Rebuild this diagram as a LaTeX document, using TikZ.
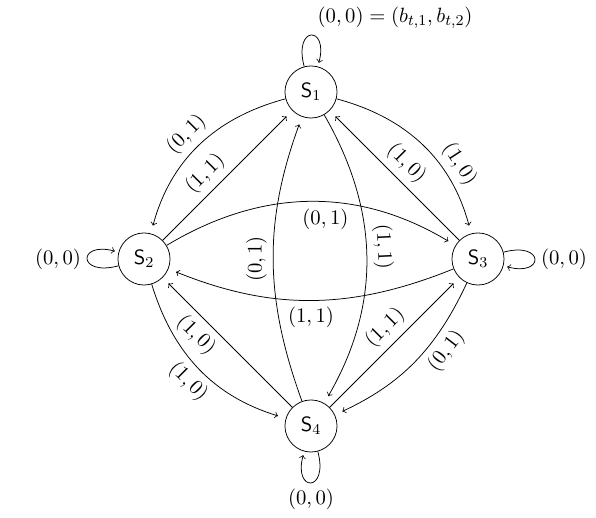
\documentclass[tikz,border=0pt]{standalone}
\begin{document}
\begin{tikzpicture}[x=0.53pt,y=0.53pt,
  every node/.style={font=\fontsize{10.95pt}{13pt}\selectfont},
  state/.style={circle,draw,minimum size=27.6pt,inner sep=0pt},
  arc/.style={->,shorten >=4.3pt},
  loopedge/.style={->,shorten >=2pt}]
\useasboundingbox (0,0) rectangle (596,518);
\node[state] (s1) at (311,426) {$\mathsf{S}_1$};
\node[state] (s2) at (144,259) {$\mathsf{S}_2$};
\node[state] (s3) at (478,259) {$\mathsf{S}_3$};
\node[state] (s4) at (311,92) {$\mathsf{S}_4$};
% loops
\draw[loopedge] (s1) to[loop above] node[above right] {$(0,0)=(b_{t,1},b_{t,2})$} (s1);
\draw[loopedge] (s2) to[loop left] node[left] {$(0,0)$} (s2);
\draw[loopedge] (s3) to[loop right] node[right] {$(0,0)$} (s3);
\draw[loopedge] (s4) to[loop below] node[below] {$(0,0)$} (s4);
% outer arcs
\draw[arc] (s1) to[bend right=30] node[pos=0.5,sloped,above] {$(0,1)$} (s2);
\draw[arc] (s1) to[bend left=30] node[pos=0.68,sloped,above] {$(1,0)$} (s3);
\draw[arc] (s2) to[bend right=28] node[sloped,below] {$(1,0)$} (s4);
\draw[arc] (s3) to[bend left=20] node[pos=0.34,sloped,below] {$(0,1)$} (s4);
% straight
\draw[arc] (s2) -- node[pos=0.42,sloped,above] {$(1,1)$} (s1);
\draw[arc] (s3) -- node[sloped,above] {$(1,0)$} (s1);
\draw[arc] (s4) -- node[pos=0.65,sloped,below] {$(1,0)$} (s2);
\draw[arc] (s4) -- node[pos=0.52,sloped,above] {$(1,1)$} (s3);
% inner curves
\draw[arc] (s1) to[bend left=30] node[pos=0.46,sloped,above] {$(1,1)$} (s4);
\draw[arc] (s4) to[bend left=20] node[sloped,above] {$(0,1)$} (s1);
\draw[arc] (s2) to[bend left=31] node[pos=0.55,below] {$(0,1)$} (s3);
\draw[arc] (s3) to[bend left=22] node[below] {$(1,1)$} (s2);
\end{tikzpicture}
\end{document}
